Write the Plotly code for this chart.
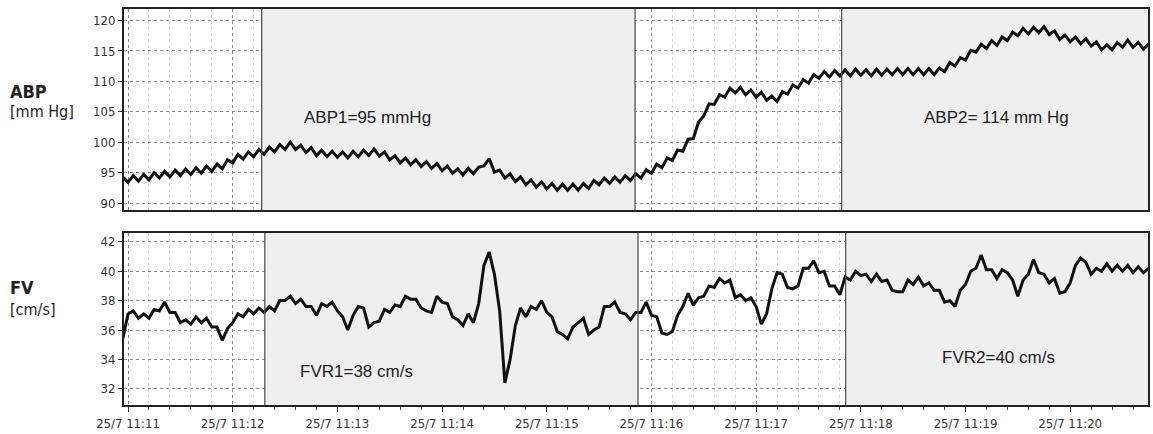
import datetime as dt
import plotly.graph_objects as go

# ---- data ----
start = dt.datetime(2013, 7, 25, 11, 11, 0)
t_sec = list(range(-3, 588, 3))  # sample times, seconds after 11:11:00

abp = [
    94.3, 93.4, 94.5, 93.6, 94.7, 93.8, 95.0, 94.1, 95.2, 94.3, 95.4, 94.5, 95.6, 94.7, 95.8, 94.9,
    96.1, 95.2, 96.4, 95.6, 97.1, 96.6, 98.0, 97.2, 98.4, 97.6, 98.8, 98.0, 99.2, 98.4, 99.6, 98.8,
    100.0, 98.8, 99.5, 98.3, 99.1, 97.8, 98.7, 97.6, 98.5, 97.5, 98.4, 97.4, 98.5, 97.6, 98.7, 97.8,
    98.9, 97.7, 98.4, 97.1, 97.8, 96.6, 97.4, 96.3, 97.1, 96.0, 96.8, 95.7, 96.5, 95.3, 96.1, 94.9,
    95.6, 94.6, 95.7, 94.8, 95.9, 96.1, 97.3, 95.1, 95.4, 94.1, 94.8, 93.5, 94.3, 93.0, 93.8, 92.6,
    93.5, 92.3, 93.2, 92.1, 93.1, 92.1, 93.1, 92.1, 93.2, 92.4, 93.7, 93.0, 94.1, 93.2, 94.3, 93.4,
    94.5, 93.7, 94.8, 94.1, 95.5, 94.9, 96.4, 95.8, 97.4, 97.0, 98.7, 98.5, 100.5, 100.6, 103.3, 104.3,
    106.3, 106.2, 107.8, 107.4, 108.9, 108.1, 109.0, 107.8, 108.6, 107.4, 108.2, 106.9, 107.6, 106.7, 108.3, 107.9,
    109.4, 108.9, 110.3, 109.7, 111.1, 110.5, 111.6, 110.7, 111.8, 110.9, 111.9, 110.9, 112.0, 111.0, 111.9, 110.9,
    112.0, 111.0, 112.0, 111.1, 112.1, 111.1, 112.1, 111.1, 112.1, 111.1, 112.1, 111.1, 112.2, 111.6, 113.1, 112.5,
    113.9, 113.5, 115.1, 114.8, 116.1, 115.4, 116.7, 115.9, 117.3, 116.7, 118.1, 117.5, 118.7, 117.8, 118.9, 118.0,
    119.0, 117.7, 118.3, 116.9, 117.6, 116.5, 117.3, 116.2, 117.0, 115.8, 116.5, 115.2, 116.0, 115.2, 116.4, 115.6,
    116.8, 115.6, 116.4, 115.3, 116.2,
]

fv = [
    35.4, 37.1, 37.3, 36.8, 37.1, 36.8, 37.4, 37.3, 37.9, 37.2, 37.2, 36.5, 36.7, 36.4, 36.9, 36.5,
    36.8, 36.2, 36.2, 35.3, 36.1, 36.5, 37.1, 36.9, 37.4, 37.1, 37.5, 37.2, 37.6, 37.3, 38.0, 38.0,
    38.3, 37.8, 38.1, 37.6, 37.6, 37.0, 37.8, 37.6, 37.9, 37.3, 36.9, 36.0, 37.0, 37.6, 37.5, 36.2,
    36.5, 36.6, 37.4, 37.2, 37.7, 37.6, 38.3, 38.1, 38.1, 37.5, 37.3, 37.2, 38.3, 37.9, 37.8, 36.9,
    36.7, 36.3, 37.1, 36.5, 37.8, 40.4, 41.3, 39.8, 37.3, 32.4, 34.0, 36.3, 37.5, 36.9, 37.6, 37.4,
    38.0, 37.2, 36.9, 35.9, 35.7, 35.4, 36.2, 36.5, 36.8, 35.7, 36.0, 36.2, 37.6, 37.6, 37.9, 37.2,
    37.1, 36.7, 37.2, 37.2, 37.9, 37.0, 36.9, 35.8, 35.7, 35.9, 37.0, 37.6, 38.5, 37.7, 38.2, 38.3,
    39.0, 38.9, 39.5, 39.2, 39.4, 38.2, 38.4, 38.0, 38.2, 37.6, 36.4, 37.1, 38.8, 39.9, 39.8, 38.9,
    38.8, 39.0, 40.2, 40.2, 40.7, 39.9, 40.0, 39.0, 39.0, 38.4, 39.6, 39.4, 40.0, 39.7, 39.8, 39.3,
    39.8, 39.3, 39.4, 38.7, 38.6, 38.6, 39.4, 39.1, 39.6, 39.0, 39.2, 38.7, 38.7, 37.9, 38.0, 37.6,
    38.7, 39.1, 40.0, 40.2, 41.1, 40.1, 40.1, 39.5, 40.1, 39.9, 39.4, 38.3, 39.4, 39.8, 40.8, 39.9,
    39.8, 39.2, 39.5, 38.5, 38.6, 39.2, 40.4, 40.9, 40.6, 39.8, 40.2, 40.0, 40.5, 40.0, 40.4, 40.0,
    40.4, 39.9, 40.3, 39.9, 40.2,
]

abp_ticks = [90, 95, 100, 105, 110, 115, 120]
fv_ticks = [32, 34, 36, 38, 40, 42]
abp_range = (88.85, 121.9)
fv_range = (30.9, 42.6)

# shaded periods (seconds after 11:11:00)
abp_periods = [(76.6, 290.6), (409.0, 590.0)]
fv_periods = [(78.4, 292.3), (411.3, 590.0)]

notes_abp = [("ABP1=95 mmHg", 137.3, 104.0), ("ABP2= 114 mm Hg", 497.6, 104.0)]
notes_fv = [("FVR1=38 cm/s", 131.0, 33.2), ("FVR2=40 cm/s", 498.8, 34.1)]

x_range_sec = (-2.3, 584.6)


def ts(s):
    return start + dt.timedelta(seconds=s)


times = [ts(s) for s in t_sec]

fig = go.Figure()

shapes = []
for periods, (xr, yr), (lo, hi) in [(abp_periods, ("x", "y"), abp_range), (fv_periods, ("x2", "y2"), fv_range)]:
    for a, b in periods:
        fig.add_trace(go.Scatter(x=[ts(a), ts(a), ts(b), ts(b), ts(a)], y=[lo, hi, hi, lo, lo],
                                 mode="lines", fill="toself", fillcolor="#efefef", line=dict(width=0),
                                 xaxis=xr, yaxis=yr, showlegend=False, hoverinfo="skip"))
        for xv in (a, b):
            shapes.append(dict(type="line", xref=xr, yref=yr + " domain", x0=ts(xv), x1=ts(xv), y0=0, y1=1,
                               line=dict(color="#555", width=1.3), layer="above"))

fig.add_trace(go.Scatter(x=times, y=abp, mode="lines", line=dict(color="#111", width=3),
                         xaxis="x", yaxis="y", showlegend=False, hoverinfo="skip"))
fig.add_trace(go.Scatter(x=times, y=fv, mode="lines", line=dict(color="#111", width=3),
                         xaxis="x2", yaxis="y2", showlegend=False, hoverinfo="skip"))

TICKFONT = dict(family="DejaVu Sans Condensed, Liberation Sans Narrow, Liberation Sans, Arial", size=13, color="#333")
xcommon = dict(type="date", range=[ts(x_range_sec[0]), ts(x_range_sec[1])],
               tick0=ts(0), dtick=60000, tickformat="%-d/%-m %H:%M",
               showgrid=True, gridcolor="#8a8a8a", griddash="dot", gridwidth=1,
               showline=True, linecolor="#222", linewidth=2, mirror=True,
               ticks="outside", ticklen=5, tickcolor="#333", tickfont=TICKFONT, zeroline=False)
ycommon = dict(showgrid=True, gridcolor="#8a8a8a", griddash="dot", gridwidth=1,
               showline=True, linecolor="#222", linewidth=2, mirror=True,
               ticks="outside", ticklen=4, tickcolor="#333", tickfont=TICKFONT, zeroline=False)

annotations = []
for text, s, v in notes_abp:
    annotations.append(dict(text=text, x=ts(s), y=v, xref="x", yref="y", showarrow=False,
                            font=dict(family="Liberation Sans, Arial", size=17, color="#222")))
for text, s, v in notes_fv:
    annotations.append(dict(text=text, x=ts(s), y=v, xref="x2", yref="y2", showarrow=False,
                            font=dict(family="Liberation Sans, Arial", size=17, color="#222")))

LBL = "DejaVu Sans Condensed, Liberation Sans Narrow, Liberation Sans, Arial"
for txt, ypx, bold in [("ABP", 91, True), ("[mm Hg]", 111, False), ("FV", 287, True), ("[cm/s]", 309, False)]:
    yp = (405 - ypx) / 396
    annotations.append(dict(text=("<b>%s</b>" % txt) if bold else txt, xref="paper", yref="paper",
                            x=(8 - 124) / 1026, y=yp, xanchor="left", yanchor="middle", showarrow=False,
                            font=dict(family=LBL, size=18 if bold else 16, color="#222")))

fig.update_layout(
    width=1153, height=434,
    margin=dict(l=124, r=3, t=9, b=29),
    paper_bgcolor="white", plot_bgcolor="white",
    xaxis=dict(xcommon, anchor="y", matches="x2", showticklabels=False, ticks="",
               minor=dict(dtick=12000, tick0=ts(0), showgrid=True, gridcolor="#d4d4d4", gridwidth=1)),
    yaxis=dict(ycommon, domain=[195 / 396, 1], range=list(abp_range), tickvals=abp_ticks, anchor="x"),
    xaxis2=dict(xcommon, anchor="y2",
                minor=dict(dtick=12000, tick0=ts(0), showgrid=True, gridcolor="#d4d4d4", gridwidth=1,
                           ticks="outside", ticklen=3, tickcolor="#555")),
    yaxis2=dict(ycommon, domain=[0, 172 / 396], range=list(fv_range), tickvals=fv_ticks, anchor="x2"),
    shapes=shapes, annotations=annotations,
)

fig.write_html("out.html")
